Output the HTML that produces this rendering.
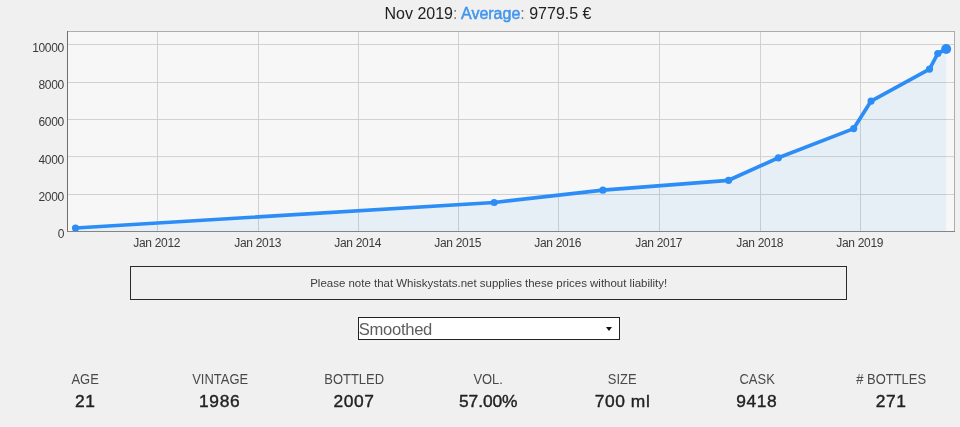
<!DOCTYPE html>
<html lang="en">
<head>
<meta charset="utf-8">
<title>Whiskystats price chart</title>
<style>
html,body{margin:0;padding:0;}
body{width:960px;height:427px;overflow:hidden;background:#f0f0f0;font-family:"Liberation Sans",Arial,sans-serif;color:#222;position:relative;}
#title{position:absolute;left:0;top:4px;width:976px;text-align:center;font-size:16px;line-height:20px;color:#222;white-space:nowrap;}
#title span{color:#777;}
#title b{color:#4195ee;font-weight:normal;-webkit-text-stroke:0.5px #4195ee;}
#chart{position:absolute;left:0;top:0;}
#note{position:absolute;left:130.35px;top:265.9px;width:714.75px;height:31.8px;border:1px solid #2a2a2a;text-align:center;font-size:11.47px;line-height:33px;color:#3c3c3c;}
#sel{position:absolute;left:357.8px;top:317.3px;width:260.1px;height:20.4px;border:1px solid #222;background:#fff;font-size:16.6px;line-height:20px;color:#5e5e5e;letter-spacing:-0.3px;}
#sel span{position:absolute;left:0px;top:2.1px;}
#sel i{position:absolute;left:247.2px;top:8.7px;width:0;height:0;border-left:3.8px solid transparent;border-right:3.8px solid transparent;border-top:4.2px solid #111;}
.st{position:absolute;top:370px;width:134.3px;text-align:center;}
.st .l{font-size:14px;line-height:18px;color:#4a4a4a;transform:scaleX(0.925);transform-origin:50% 50%;}
.st .v{font-size:17.4px;line-height:24px;color:#222;font-weight:normal;-webkit-text-stroke:0.4px #222;margin-top:0.9px;letter-spacing:0.6px;}
</style>
</head>
<body>
<div id="title">Nov 2019<span>:</span> <b>Average</b><span>:</span> 9779.5 €</div>
<svg id="chart" width="960" height="260">
  <rect x="67.5" y="31.5" width="887" height="200" fill="#f7f7f7" stroke="none"/>
  <g stroke="#d1d1d1" stroke-width="1">
    <line x1="67.5" x2="954.5" y1="44.5" y2="44.5"/>
    <line x1="67.5" x2="954.5" y1="82.5" y2="82.5"/>
    <line x1="67.5" x2="954.5" y1="119.5" y2="119.5"/>
    <line x1="67.5" x2="954.5" y1="156.6" y2="156.6"/>
    <line x1="67.5" x2="954.5" y1="194.5" y2="194.5"/>
    <line y1="31.5" y2="231.5" x1="157.5" x2="157.5"/>
    <line y1="31.5" y2="231.5" x1="258.5" x2="258.5"/>
    <line y1="31.5" y2="231.5" x1="358.5" x2="358.5"/>
    <line y1="31.5" y2="231.5" x1="458.5" x2="458.5"/>
    <line y1="31.5" y2="231.5" x1="558.5" x2="558.5"/>
    <line y1="31.5" y2="231.5" x1="659.5" x2="659.5"/>
    <line y1="31.5" y2="231.5" x1="760.5" x2="760.5"/>
    <line y1="31.5" y2="231.5" x1="860.5" x2="860.5"/>
  </g>
  <path d="M75.5,228 L494.2,202.5 L602.9,190.2 L728.6,180.3 L778.4,157.8 L853.7,128.6 L871.1,101.1 L929.5,69.1 L937.8,53.5 L946.2,49 L946.2,231.5 L75.5,231.5 Z" fill="#2c8df6" fill-opacity="0.08"/>
  <rect x="67.5" y="31.5" width="887" height="200" fill="none" stroke="#adadad" stroke-width="1"/>
  <path d="M67.5,31 V232" fill="none" stroke="#6e6e6e" stroke-width="1"/>
  <path d="M67,231.5 H955" fill="none" stroke="#858585" stroke-width="1"/>
  <path d="M75.5,228 L494.2,202.5 L602.9,190.2 L728.6,180.3 L778.4,157.8 L853.7,128.6 L871.1,101.1 L929.5,69.1 L937.8,53.5 L946.2,49" fill="none" stroke="#2c8df6" stroke-width="3.7" stroke-linejoin="round" stroke-linecap="round"/>
  <g fill="#2c8df6">
    <circle cx="75.5" cy="228" r="3.6"/>
    <circle cx="494.2" cy="202.5" r="3.6"/>
    <circle cx="602.9" cy="190.2" r="3.6"/>
    <circle cx="728.6" cy="180.3" r="3.6"/>
    <circle cx="778.4" cy="157.8" r="3.6"/>
    <circle cx="853.7" cy="128.6" r="3.6"/>
    <circle cx="871.1" cy="101.1" r="3.6"/>
    <circle cx="929.5" cy="69.1" r="3.6"/>
    <circle cx="937.8" cy="53.5" r="3.6"/>
    <circle cx="946.2" cy="49" r="5"/>
  </g>
  <g font-family="Liberation Sans, Arial, sans-serif" font-size="12" fill="#3a3a3a" text-anchor="end" letter-spacing="-0.3">
    <text x="64" y="51.5">10000</text>
    <text x="64" y="89.2">8000</text>
    <text x="64" y="126.3">6000</text>
    <text x="64" y="163.6">4000</text>
    <text x="64" y="201.3">2000</text>
    <text x="64" y="238.4">0</text>
  </g>
  <g font-family="Liberation Sans, Arial, sans-serif" font-size="12" fill="#3a3a3a" text-anchor="middle" letter-spacing="-0.3">
    <text x="156.7" y="246.8">Jan 2012</text>
    <text x="257.7" y="246.8">Jan 2013</text>
    <text x="357.7" y="246.8">Jan 2014</text>
    <text x="457.7" y="246.8">Jan 2015</text>
    <text x="557.7" y="246.8">Jan 2016</text>
    <text x="658.7" y="246.8">Jan 2017</text>
    <text x="759.7" y="246.8">Jan 2018</text>
    <text x="859.7" y="246.8">Jan 2019</text>
  </g>
</svg>
<div id="note">Please note that Whiskystats.net supplies these prices without liability!</div>
<div id="sel"><span>Smoothed</span><i></i></div>
<div class="st" style="left:18.2px"><div class="l">AGE</div><div class="v">21</div></div>
<div class="st" style="left:152.5px"><div class="l">VINTAGE</div><div class="v">1986</div></div>
<div class="st" style="left:286.8px"><div class="l">BOTTLED</div><div class="v">2007</div></div>
<div class="st" style="left:421.1px"><div class="l">VOL.</div><div class="v" style="letter-spacing:-0.1px">57.00%</div></div>
<div class="st" style="left:555.4px"><div class="l">SIZE</div><div class="v">700 ml</div></div>
<div class="st" style="left:689.7px"><div class="l">CASK</div><div class="v">9418</div></div>
<div class="st" style="left:824px"><div class="l"># BOTTLES</div><div class="v">271</div></div>
</body>
</html>
